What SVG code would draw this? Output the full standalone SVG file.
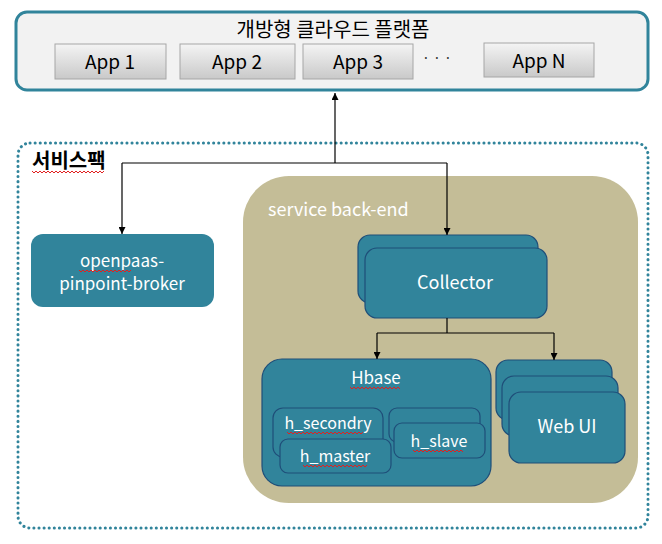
<svg xmlns="http://www.w3.org/2000/svg" width="662" height="544" viewBox="0 0 662 544">
<defs>
<linearGradient id="appg" x1="0" y1="0" x2="0" y2="1">
<stop offset="0" stop-color="#f4f4f4"/>
<stop offset="1" stop-color="#c9c9c9"/>
</linearGradient>
<marker id="ah" viewBox="0 0 10 10" refX="10" refY="5" markerWidth="7" markerHeight="7" orient="auto" markerUnits="userSpaceOnUse">
<path d="M0,0 L10,5 L0,10 Z" fill="#000"/>
</marker>
</defs>
<style>
text{font-family:"Noto Sans CJK KR","Noto Sans",sans-serif;}
.app rect{fill:url(#appg);stroke:#a6a6a6;stroke-width:1;}
.app text{font-size:19px;fill:#000;text-anchor:middle;}
.node{fill:#31849b;stroke:#1f4e79;stroke-width:1.2;}
.wt{fill:#fff;text-anchor:middle;}
.conn{fill:none;stroke:#000;stroke-width:1.2;}
.sq{fill:none;stroke:#e02020;stroke-width:1;}
</style>

<g id="platform">
<rect x="16" y="12" width="632" height="78" rx="11" fill="#f2f2f2" stroke="#31849b" stroke-width="3"/>
<text x="333" y="37" font-size="20" text-anchor="middle" fill="#000">개방형 클라우드 플랫폼</text>
</g>
<g id="app1" class="app"><rect x="55" y="44" width="111" height="35"/><text x="110" y="69">App 1</text></g>
<g id="app2" class="app"><rect x="180" y="44" width="115" height="35"/><text x="237" y="69">App 2</text></g>
<g id="app3" class="app"><rect x="303" y="44" width="110" height="35"/><text x="358" y="69">App 3</text></g>
<text x="437" y="63" font-size="14" text-anchor="middle" fill="#333">· · ·</text>
<g id="appN" class="app"><rect x="484" y="43" width="110" height="34"/><text x="539" y="68">App N</text></g>

<g id="servicepack">
<rect x="18" y="143" width="630" height="385" rx="12" fill="none" stroke="#31849b" stroke-width="3" stroke-dasharray="0.1 5" stroke-linecap="round"/>
<text x="32" y="168" font-size="20" font-weight="bold" fill="#000">서비스팩</text>
<path class="sq" d="M32,171 l2,2 l2,-2 l2,2 l2,-2 l2,2 l2,-2 l2,2 l2,-2 l2,2 l2,-2 l2,2 l2,-2 l2,2 l2,-2 l2,2 l2,-2 l2,2 l2,-2 l2,2 l2,-2 l2,2 l2,-2 l2,2 l2,-2 l2,2 l2,-2 l2,2 l2,-2 l2,2 l2,-2 l2,2 l2,-2 l2,2 l2,-2 l2,2 l2,-2"/>
</g>

<g id="backend">
<rect x="243" y="176" width="395" height="327" rx="46" fill="#c4bd97"/>
<text x="268" y="216" font-size="18" fill="#fff">service back-end</text>
</g>

<g id="broker">
<rect x="31" y="234" width="183" height="73" rx="12" fill="#31849b"/>
<text class="wt" x="122" y="267" font-size="17">openpaas-</text>
<text class="wt" x="122" y="290" font-size="17">pinpoint-broker</text>
<path class="sq" d="M79,270 l2,2 l2,-2 l2,2 l2,-2 l2,2 l2,-2 l2,2 l2,-2 l2,2 l2,-2 l2,2 l2,-2 l2,2 l2,-2 l2,2 l2,-2 l2,2 l2,-2 l2,2 l2,-2 l2,2 l2,-2 l2,2 l2,-2 l2,2 l2,-2"/>
</g>

<g id="collector">
<rect class="node" x="358" y="235" width="180" height="68" rx="12"/>
<rect class="node" x="365" y="248" width="182" height="70" rx="12"/>
<text class="wt" x="455" y="289" font-size="18">Collector</text>
</g>

<g id="hbase">
<rect class="node" x="262" y="359" width="229" height="127" rx="20"/>
<text class="wt" x="376" y="384" font-size="17">Hbase</text>
<path class="sq" d="M350,387 l2,2 l2,-2 l2,2 l2,-2 l2,2 l2,-2 l2,2 l2,-2 l2,2 l2,-2 l2,2 l2,-2 l2,2 l2,-2 l2,2 l2,-2 l2,2 l2,-2 l2,2 l2,-2 l2,2 l2,-2 l2,2 l2,-2 l2,2"/>
</g>
<g id="h_secondry">
<rect class="node" x="273" y="408" width="110" height="49" rx="10"/>
<text class="wt" x="328" y="429" font-size="16">h_secondry</text>
<path class="sq" d="M287,432 l2,2 l2,-2 l2,2 l2,-2 l2,2 l2,-2 l2,2 l2,-2 l2,2 l2,-2 l2,2 l2,-2 l2,2 l2,-2 l2,2 l2,-2 l2,2 l2,-2 l2,2 l2,-2 l2,2 l2,-2 l2,2 l2,-2 l2,2 l2,-2 l2,2 l2,-2 l2,2 l2,-2 l2,2 l2,-2 l2,2 l2,-2 l2,2 l2,-2 l2,2 l2,-2"/>
</g>
<g id="h_slave">
<rect class="node" x="389" y="408" width="91" height="34" rx="8"/>
<rect class="node" x="394" y="423" width="91" height="35" rx="8"/>
<text class="wt" x="439" y="447" font-size="16">h_slave</text>
<path class="sq" d="M413,450 l2,2 l2,-2 l2,2 l2,-2 l2,2 l2,-2 l2,2 l2,-2 l2,2 l2,-2 l2,2 l2,-2 l2,2 l2,-2 l2,2 l2,-2 l2,2 l2,-2 l2,2 l2,-2 l2,2 l2,-2 l2,2 l2,-2 l2,2"/>
</g>
<g id="h_master">
<rect class="node" x="280" y="439" width="111" height="34" rx="8"/>
<text class="wt" x="335" y="462" font-size="16">h_master</text>
<path class="sq" d="M303,465 l2,2 l2,-2 l2,2 l2,-2 l2,2 l2,-2 l2,2 l2,-2 l2,2 l2,-2 l2,2 l2,-2 l2,2 l2,-2 l2,2 l2,-2 l2,2 l2,-2 l2,2 l2,-2 l2,2 l2,-2 l2,2 l2,-2 l2,2 l2,-2 l2,2 l2,-2 l2,2 l2,-2 l2,2 l2,-2"/>
</g>

<g id="webui">
<rect class="node" x="496" y="360" width="116" height="60" rx="12"/>
<rect class="node" x="502" y="376" width="116" height="60" rx="12"/>
<rect class="node" x="509" y="392" width="116" height="71" rx="12"/>
<text class="wt" x="567" y="433" font-size="18">Web UI</text>
</g>

<g id="connectors">
<path class="conn" d="M335,163 L335,93" marker-end="url(#ah)"/>
<path class="conn" d="M122,163 L447,163"/>
<path class="conn" d="M122,163 L122,234" marker-end="url(#ah)"/>
<path class="conn" d="M447,163 L447,235" marker-end="url(#ah)"/>
<path class="conn" d="M447,318 L447,333 M377,333 L554,333"/>
<path class="conn" d="M377,333 L377,359" marker-end="url(#ah)"/>
<path class="conn" d="M554,333 L554,360" marker-end="url(#ah)"/>
</g>
</svg>
